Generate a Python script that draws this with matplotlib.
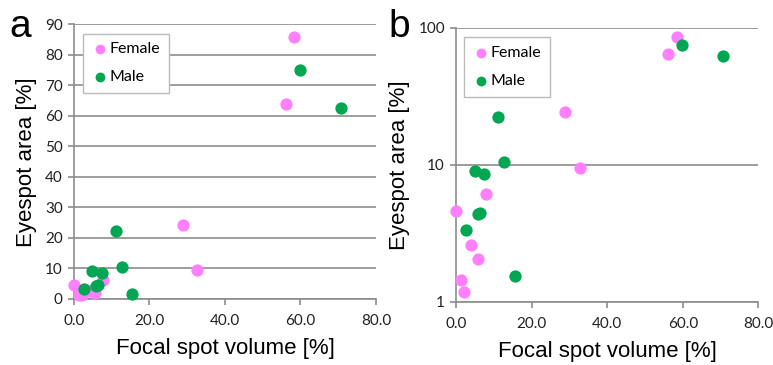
import matplotlib
matplotlib.use("Agg")
import matplotlib.pyplot as plt
from matplotlib.ticker import FixedLocator, NullLocator, FixedFormatter

female_x = [58.4, 56.1, 28.9, 32.7, 7.8, 0.0, 3.9, 5.7, 1.3, 2.2]
female_y = [86.0, 64.0, 24.1, 9.4, 6.1, 4.6, 2.6, 2.05, 1.45, 1.18]
male_x = [59.9, 70.7, 11.1, 12.7, 4.9, 7.4, 5.9, 6.4, 2.7, 15.5]
male_y = [75.0, 62.5, 22.4, 10.4, 9.0, 8.5, 4.35, 4.45, 3.35, 1.55]

xticks = [0, 20, 40, 60, 80]
xticklabels = ["0.0", "20.0", "40.0", "60.0", "80.0"]
yticks_a = [0, 10, 20, 30, 40, 50, 60, 70, 80, 90]
yticks_b = [1, 10, 100]

pink = "#FF80FF"
green = "#00A651"
grid_c = "#8C8C8C"
tick_font = "Lato"
label_font = "Liberation Sans"

fig = plt.figure(figsize=(7.73, 3.65), dpi=100)
ax_a = fig.add_axes([0.0957, 0.181, 0.3907, 0.752])
ax_b = fig.add_axes([0.590, 0.173, 0.391, 0.751])

def style(ax):
    for s in ["top", "right"]:
        ax.spines[s].set_visible(False)
    for s in ["left", "bottom"]:
        ax.spines[s].set_color(grid_c)
        ax.spines[s].set_linewidth(1.2)
    ax.grid(axis="y", color=grid_c, linewidth=1.2)
    ax.set_axisbelow(True)
    ax.tick_params(axis="both", direction="out", length=4, width=1.2, color=grid_c,
                   labelsize=11, labelcolor="#222222", pad=4)
    ax.tick_params(axis="x", pad=7)
    ax.set_xlim(0, 80)
    ax.xaxis.set_major_locator(FixedLocator(xticks))
    ax.xaxis.set_major_formatter(FixedFormatter(xticklabels))
    for lab in ax.get_xticklabels() + ax.get_yticklabels():
        lab.set_family(tick_font)
    ax.set_xlabel("Focal spot volume [%]", fontsize=16, family=label_font, labelpad=7)
    ax.set_ylabel("Eyespot area [%]", fontsize=16, family=label_font, labelpad=6)

for ax, log in [(ax_a, False), (ax_b, True)]:
    ax.scatter(female_x, female_y, s=78, color=pink, label="Female", zorder=3,
               linewidths=0, clip_on=False)
    ax.scatter(male_x, male_y, s=78, color=green, label="Male", zorder=3,
               linewidths=0, clip_on=False)
    if log:
        ax.set_yscale("log")
        ax.set_ylim(1, 100)
        ax.yaxis.set_major_locator(FixedLocator(yticks_b))
        ax.yaxis.set_major_formatter(FixedFormatter([str(v) for v in yticks_b]))
        ax.yaxis.set_minor_locator(NullLocator())
    else:
        ax.set_ylim(0, 90)
        ax.yaxis.set_major_locator(FixedLocator(yticks_a))
    style(ax)
    leg = ax.legend(loc="upper left", bbox_to_anchor=(0.03, 0.967) if not log else (0.026, 0.966),
                    fancybox=False, edgecolor="#BBBBBB", framealpha=1, handletextpad=0.1,
                    labelspacing=0.85, borderpad=0.55, handlelength=1.0, markerscale=0.8,
                    borderaxespad=0.0,
                    prop={"family": tick_font, "size": 11.5})
    leg.get_frame().set_linewidth(1.0)
    leg.set_zorder(2)

fig.text(0.012, 0.925, "a", fontsize=28, family=label_font, va="center")
fig.text(0.502, 0.925, "b", fontsize=28, family=label_font, va="center")

fig.savefig("out.png", dpi=100)
